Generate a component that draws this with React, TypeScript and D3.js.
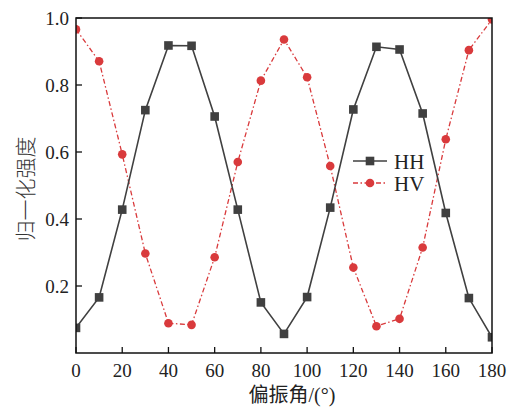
import React from "react";
import * as d3 from "d3";

const angles = [0, 10, 20, 30, 40, 50, 60, 70, 80, 90, 100, 110, 120, 130, 140, 150, 160, 170, 180];
const hh = [0.075, 0.166, 0.428, 0.725, 0.918, 0.917, 0.706, 0.428, 0.151, 0.057, 0.167, 0.434, 0.727, 0.914, 0.906, 0.715, 0.418, 0.164, 0.047];
const hv = [0.966, 0.871, 0.593, 0.297, 0.089, 0.084, 0.286, 0.57, 0.813, 0.936, 0.823, 0.558, 0.255, 0.08, 0.102, 0.315, 0.638, 0.904, 0.996];
const xTicks = [0, 20, 40, 60, 80, 100, 120, 140, 160, 180];
const yTicks = [0.2, 0.4, 0.6, 0.8, 1.0];

const W = 512, H = 408;
const L = 76, R = 492, T = 18, B = 353;
const HH_COLOR = "#404040";
const HV_COLOR = "#d93a3c";
const FONT = "'Liberation Serif', 'Times New Roman', serif";
const CJK = "'Noto Sans CJK SC', sans-serif";

export default function App() {
  const x = d3.scaleLinear().domain([0, 180]).range([L, R]);
  const y = d3.scaleLinear().domain([0, 1]).range([B, T]);
  const line = d3.line<number>().x((_, i) => x(angles[i])).y((d) => y(d));
  const hhPath = line(hh) || "";
  const hvPath = line(hv) || "";

  return (
    <svg width={W} height={H} style={{ position: "absolute", left: 0, top: 0, background: "#fff" }}>
      <defs>
        <clipPath id="plotclip">
          <rect x={L} y={T} width={R - L} height={B - T} />
        </clipPath>
      </defs>
      <g clipPath="url(#plotclip)">
        <path d={hvPath} fill="none" stroke={HV_COLOR} strokeWidth={1.3} strokeDasharray="5,2.5,1.5,2.5" />
        <path d={hhPath} fill="none" stroke={HH_COLOR} strokeWidth={1.6} />
        {hv.map((v, i) => (
          <circle key={"c" + i} cx={x(angles[i])} cy={y(v)} r={4.3} fill={HV_COLOR} />
        ))}
        {hh.map((v, i) => (
          <rect key={"s" + i} x={x(angles[i]) - 4.3} y={y(v) - 4.3} width={8.6} height={8.6} fill={HH_COLOR} />
        ))}
      </g>
      <rect x={L} y={T} width={R - L} height={B - T} fill="none" stroke="#111" strokeWidth={1.5} />
      {xTicks.map((t) => (
        <g key={"xt" + t}>
          <line x1={x(t)} x2={x(t)} y1={B} y2={B - 6} stroke="#111" strokeWidth={1.3} />
          <text x={x(t)} y={377} textAnchor="middle" fontFamily={FONT} fontSize={19} fill="#222">
            {t}
          </text>
        </g>
      ))}
      {yTicks.map((t) => (
        <g key={"yt" + t}>
          <line x1={L} x2={L + 6} y1={y(t)} y2={y(t)} stroke="#111" strokeWidth={1.3} />
          <text x={69} y={y(t) + 6.5} textAnchor="end" fontFamily={FONT} fontSize={19} fill="#222">
            {t.toFixed(1)}
          </text>
        </g>
      ))}
      <text x={292} y={402} textAnchor="middle" fill="#222" fontSize={20}>
        <tspan fontFamily={CJK}>偏振角</tspan>
        <tspan fontFamily={FONT}>/(°)</tspan>
      </text>
      <text
        transform={`translate(33,${189}) rotate(-90)`}
        textAnchor="middle"
        fontFamily={CJK}
        fontSize={21}
        fontWeight={300}
        fill="#333"
      >
        归一化强度
      </text>
      <g>
        <line x1={353} x2={387} y1={161} y2={161} stroke={HH_COLOR} strokeWidth={1.6} />
        <rect x={370 - 4.3} y={161 - 4.3} width={8.6} height={8.6} fill={HH_COLOR} />
        <text x={394} y={169} fontFamily={FONT} fontSize={21} fill="#222">HH</text>
        <line x1={353} x2={387} y1={183} y2={183} stroke={HV_COLOR} strokeWidth={1.3} strokeDasharray="5,2.5,1.5,2.5" />
        <circle cx={370} cy={183} r={4.3} fill={HV_COLOR} />
        <text x={394} y={191} fontFamily={FONT} fontSize={21} fill="#222">HV</text>
      </g>
    </svg>
  );
}
